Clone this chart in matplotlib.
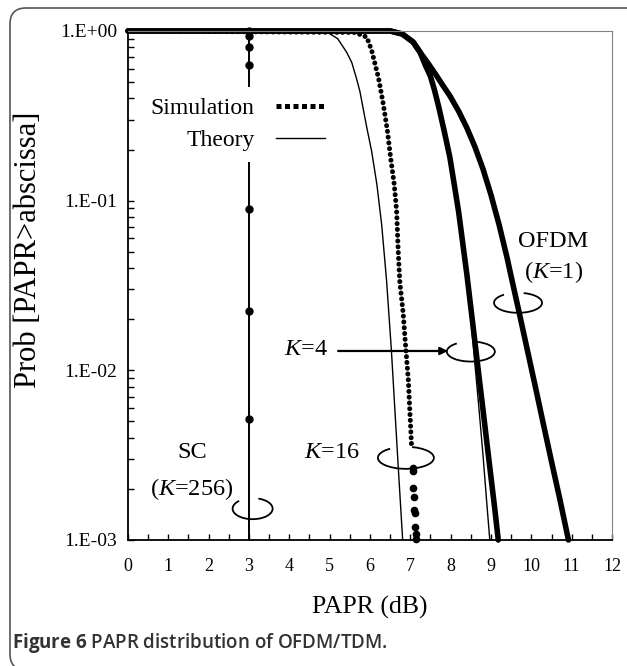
import numpy as np
import matplotlib
matplotlib.use("Agg")
import matplotlib.pyplot as plt
from matplotlib.lines import Line2D
from matplotlib.patches import Arc, FancyBboxPatch
from matplotlib.transforms import ScaledTranslation, IdentityTransform
from matplotlib.ticker import MultipleLocator, LogLocator, FuncFormatter, NullFormatter

plt.rcParams['font.family'] = ['Liberation Serif', 'DejaVu Serif']
plt.rcParams['mathtext.fontset'] = 'custom'
plt.rcParams['mathtext.rm'] = 'Liberation Serif'
plt.rcParams['mathtext.it'] = 'Liberation Serif:italic'
plt.rcParams['mathtext.bf'] = 'Open Sans:bold'

# values: PAPR (dB) vs Prob[PAPR > abscissa]
sc_papr = 3.0
sc_th_p = [1.0, 0.001]
sc_sim_p = [1.0, 0.93, 0.80, 0.63, 0.089, 0.0225, 0.0052]

k16_sim_x = [0, 5.63, 5.92, 6.04, 6.21, 6.33, 6.43, 6.51, 6.60, 6.66, 6.70, 6.74, 6.82, 6.89, 6.95, 6.99, 7.03]
k16_sim_p = [1, 0.98, 0.92, 0.77, 0.53, 0.37, 0.26, 0.18, 0.125, 0.087, 0.05, 0.033, 0.022, 0.0132, 0.0088, 0.0056, 0.0036]
k16_tail_x = [7.06, 7.065, 7.075, 7.085, 7.10, 7.105, 7.12, 7.13, 7.14]
k16_tail_p = [0.00265, 0.00256, 0.00202, 0.0018, 0.0015, 0.00144, 0.0012, 0.00108, 0.00101]
k16_th_x = [0, 4.9, 5.2, 5.42, 5.55, 5.67, 5.75, 5.92, 6.04, 6.17, 6.29, 6.41, 6.53, 6.70, 6.81]
k16_th_p = [1, 1, 0.9, 0.75, 0.65, 0.52, 0.44, 0.27, 0.196, 0.125, 0.072, 0.034, 0.0132, 0.0027, 0.001]

k4_sim_x = [0, 6.5, 6.8, 7.07, 7.24, 7.37, 7.5, 7.6, 7.7, 7.84, 7.98, 8.1, 8.2, 8.3, 8.4, 8.5,
            8.6, 8.7, 8.8, 8.9, 9.0, 9.1, 9.18]
k4_sim_p = [1, 1, 0.96, 0.86, 0.75, 0.63, 0.54, 0.447, 0.36, 0.257, 0.18, 0.12, 0.085, 0.056, 0.037, 0.0234,
            0.0148, 0.0093, 0.0059, 0.0037, 0.00234, 0.00148, 0.001]
k4_th_x = [0, 6.5, 6.8, 7.07, 7.24, 7.37, 7.5, 7.6, 7.7, 7.84, 7.98, 8.1, 8.2, 8.3, 8.4, 8.5,
           8.6, 8.7, 8.8, 8.9, 8.97]
k4_th_p = [1, 1, 0.96, 0.86, 0.75, 0.63, 0.54, 0.447, 0.36, 0.257, 0.176, 0.114, 0.083, 0.055, 0.0347, 0.020,
           0.011, 0.006, 0.0032, 0.0016, 0.001]

ofdm_sim_x = [0, 6.5, 6.8, 7.07, 7.24, 7.45, 7.65, 7.8, 7.98, 8.2, 8.4, 8.6, 8.8, 9.0, 9.2, 9.4, 9.52,
              9.7, 9.9, 10.1, 10.3, 10.5, 10.7, 10.92]
ofdm_sim_p = [1, 1, 0.96, 0.86, 0.75, 0.64, 0.545, 0.48, 0.415, 0.336, 0.269, 0.208, 0.154, 0.108, 0.0722,
              0.0459, 0.034, 0.0218, 0.0132, 0.0080, 0.0048, 0.0029, 0.00177, 0.001]
ofdm_th_x = [0, 6.5, 6.8, 7.07, 7.24, 7.45, 7.65, 7.8, 7.98, 8.2, 8.4, 8.6, 8.8, 9.0, 9.2, 9.4, 9.52,
             9.7, 9.9, 10.1, 10.3, 10.5, 10.7, 10.95]
ofdm_th_p = [1, 1, 0.96, 0.86, 0.75, 0.64, 0.545, 0.48, 0.415, 0.336, 0.269, 0.208, 0.154, 0.108, 0.0722,
             0.0459, 0.034, 0.0218, 0.0132, 0.0080, 0.0049, 0.0030, 0.0018, 0.001]

fig = plt.figure(figsize=(6.27, 6.66), dpi=100)
ax = fig.add_axes([0.2041, 0.1892, 0.7720, 0.7643])

# theory curves (thin)
ax.plot([sc_papr] * len(sc_th_p), sc_th_p, color='black', lw=1.4)
for xs, ps in [(k16_th_x, k16_th_p), (k4_th_x, k4_th_p), (ofdm_th_x, ofdm_th_p)]:
    ax.plot(xs, ps, color='black', lw=1.0)

# simulation curves (dense markers)
ax.plot([sc_papr] * len(sc_sim_p), sc_sim_p, 'o', ms=5, color='black', clip_on=False)
ax.plot(k16_sim_x, k16_sim_p, color='black', lw=3.6, ls=(0, (0.01, 1.15)),
        dash_capstyle='round', clip_on=False)
ax.plot(k16_tail_x, k16_tail_p, 'o', ms=4.5, color='black', clip_on=False)
ax.plot(k4_sim_x, k4_sim_p, color='black', lw=4, solid_capstyle='round',
        solid_joinstyle='round', clip_on=False)
ax.plot(ofdm_sim_x, ofdm_sim_p, color='black', lw=4, solid_capstyle='round',
        solid_joinstyle='round', clip_on=False)

ax.set_yscale('log')
ax.set_xlim(0, 12)
ax.set_ylim(1e-3, 1)
ax.xaxis.set_major_locator(MultipleLocator(1))
ax.xaxis.set_minor_locator(MultipleLocator(0.5))
ax.yaxis.set_major_locator(LogLocator(base=10))
ax.yaxis.set_minor_locator(LogLocator(base=10, subs=np.arange(2, 10)))
ax.yaxis.set_minor_formatter(NullFormatter())
ax.yaxis.set_major_formatter(FuncFormatter(lambda v, pos: f"1.E{int(round(np.log10(v))):+03d}"))
ax.tick_params(axis='both', which='both', direction='in', length=4, width=1, color='black')
ax.tick_params(axis='x', which='major', labelsize=13, pad=13)
ax.tick_params(axis='y', which='major', labelsize=14, pad=8)
ax.tick_params(top=False, right=False, which='both')

for side in ['left', 'bottom']:
    ax.spines[side].set_linewidth(1.3)
    ax.spines[side].set_color('black')
for side in ['top', 'right']:
    ax.spines[side].set_linewidth(0.8)
    ax.spines[side].set_color('#808080')

ax.set_xlabel('PAPR (dB)', fontsize=18.5, labelpad=15)
ax.set_ylabel('Prob [PAPR>abscissa]', fontsize=22)
ax.yaxis.set_label_coords(-0.175, 0.57)

# legend
handles = [Line2D([], [], color='black', lw=3.6, ls=(0, (1, 0.7)), dash_capstyle='butt'),
           Line2D([], [], color='black', lw=1.0)]
ax.legend(handles, ['Simulation', 'Theory'], loc='upper left', bbox_to_anchor=(0.025, 0.89),
          markerfirst=False, frameon=True, fancybox=False, edgecolor='none', facecolor='white',
          framealpha=1, fontsize=17, handlelength=2.1, handletextpad=0.9, labelspacing=0.45,
          borderpad=0.45, borderaxespad=0)


def loop(x, p, w, h, t1=150, t2=420):
    tr = fig.dpi_scale_trans + ScaledTranslation(x, p, ax.transData)
    ax.add_patch(Arc((0, 0), w / 100, h / 100, theta1=t1, theta2=t2, transform=tr,
                     lw=1.3, color='black', clip_on=False))


loop(3.09, 0.00153, 40, 21)
loop(6.89, 0.00305, 56, 22)
loop(8.50, 0.0129, 48, 20)
loop(9.67, 0.025, 48, 20)

fs = 17.5
ax.text(10.54, 0.0575, 'OFDM', fontsize=fs, ha='center', va='center')
ax.text(10.56, 0.0382, '($K$=1)', fontsize=fs, ha='center', va='center')
ax.text(4.96, 0.0132, '$K$=4', fontsize=fs, ha='right', va='center')
ax.annotate('', xy=(7.93, 0.0130), xytext=(5.21, 0.0130),
            arrowprops=dict(arrowstyle='-|>', color='black', lw=1.6, mutation_scale=11,
                            shrinkA=0, shrinkB=0))
ax.text(5.06, 0.00326, '$K$=16', fontsize=fs, ha='center', va='center')
ax.text(1.60, 0.00326, 'SC', fontsize=fs, ha='center', va='center')
ax.text(1.58, 0.0020, '($K$=256)', fontsize=fs, ha='center', va='center')

# caption and outer frame
fig.text(0.019, 1 - 643 / 666, r'$\mathbf{Figure\ 6}$ PAPR distribution of OFDM/TDM.',
         family='Open Sans', weight='semibold', color='#333333', fontsize=13.5, va='center')
fig.patches.append(FancyBboxPatch((10, -4), 650, 662, boxstyle='round,pad=0,rounding_size=16',
                                  transform=IdentityTransform(), fill=False, ec='#555555',
                                  lw=1.2, figure=fig))

fig.savefig('out.png', dpi=100)
